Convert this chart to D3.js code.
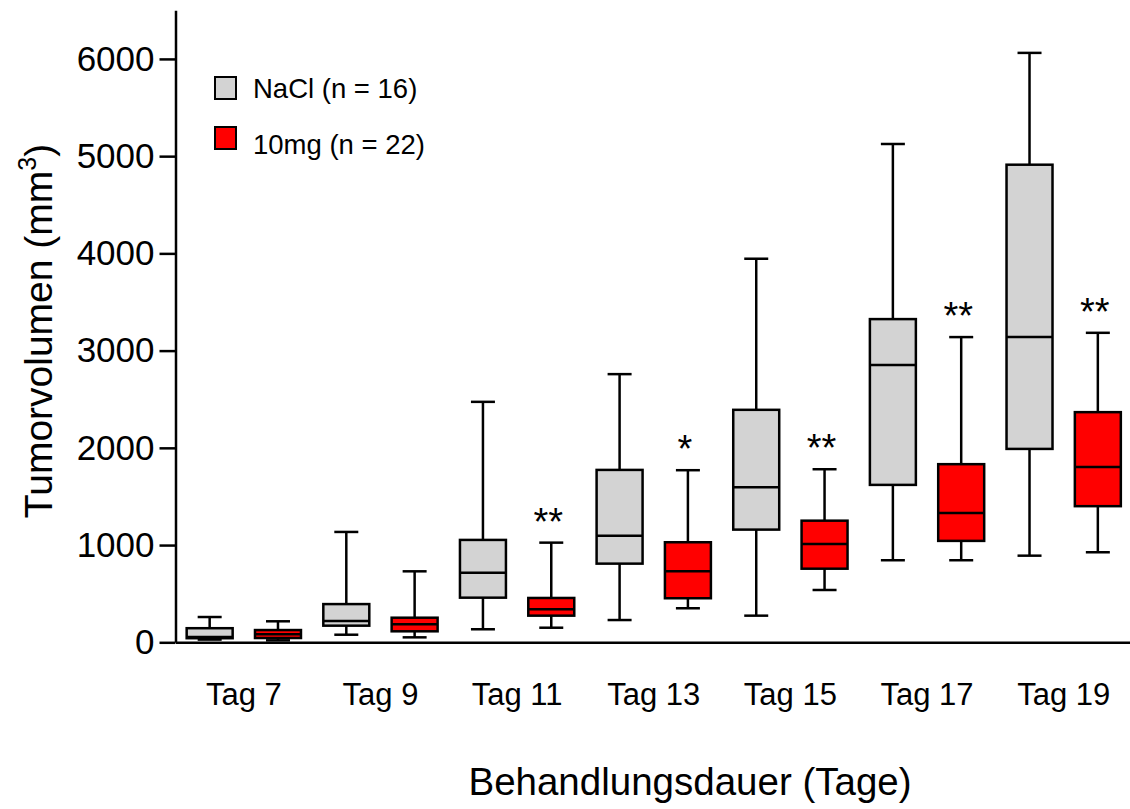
<!DOCTYPE html>
<html>
<head>
<meta charset="utf-8">
<script src="https://cdn.jsdelivr.net/npm/d3@7"></script>
<style>
  html, body { margin: 0; padding: 0; background: #fff; }
  svg { display: block; font-family: "Liberation Sans", Arial, sans-serif; }
</style>
</head>
<body>
<svg id="chart" width="1130" height="809"></svg>
<script>
// Treatment days and groups
const days = ["Tag 7", "Tag 9", "Tag 11", "Tag 13", "Tag 15", "Tag 17", "Tag 19"];
const groups = ["NaCl", "10mg"];
const groupLabels = ["NaCl (n = 16)", "10mg (n = 22)"];

// Box statistics per day (mm³): whisker min, Q1, median, Q3, whisker max
const naclMin = [28, 78, 134, 229, 274, 844, 891];
const naclQ1  = [42, 171, 459, 809, 1159, 1619, 1989];
const naclMed = [55, 219, 716, 1097, 1595, 2851, 3139];
const naclQ3  = [145, 393, 1053, 1773, 2391, 3324, 4912];
const naclMax = [260, 1135, 2473, 2758, 3945, 5125, 6062];

const mgMin = [20, 51, 150, 350, 538, 844, 926];
const mgQ1  = [44, 113, 274, 453, 757, 1043, 1400];
const mgMed = [82, 185, 340, 731, 1012, 1331, 1804];
const mgQ3  = [126, 253, 456, 1029, 1251, 1832, 2367];
const mgMax = [216, 730, 1025, 1770, 1780, 3139, 3183];

// Significance vs. NaCl for the 10mg group
const significance = ["", "", "**", "*", "**", "**", "**"];

const yTicks = [0, 1000, 2000, 3000, 4000, 5000, 6000];

const colors = { "NaCl": "#d3d3d3", "10mg": "#ff0000" };

const rows = [];
days.forEach((d, i) => {
  rows.push({ day: d, group: "NaCl", min: naclMin[i], q1: naclQ1[i], med: naclMed[i], q3: naclQ3[i], max: naclMax[i], sig: "" });
  rows.push({ day: d, group: "10mg", min: mgMin[i], q1: mgQ1[i], med: mgMed[i], q3: mgQ3[i], max: mgMax[i], sig: significance[i] });
});

const svg = d3.select("#chart");
const yAxisX = 175.5;
const baseY = 642.3;

const x = d3.scaleBand().domain(days).range([yAxisX, 1132]).padding(0);
const xg = d3.scaleBand().domain(groups).range([0, x.bandwidth()])
  .paddingInner(0.327).paddingOuter(0.1635);
const y = d3.scaleLinear().domain([0, 6500]).range([baseY, 10.3]);

// Y axis
const yAxis = svg.append("g")
  .attr("transform", `translate(${yAxisX},0)`)
  .call(d3.axisLeft(y).tickValues(yTicks).tickSize(16).tickSizeOuter(0).tickPadding(5).tickFormat(d3.format("d")));
yAxis.select(".domain").attr("stroke", "#000").attr("stroke-width", 2.5);
yAxis.selectAll(".tick line").attr("stroke", "#000").attr("stroke-width", 2.5);
yAxis.selectAll(".tick text")
  .attr("font-size", 35).attr("fill", "#000")
  .attr("font-family", "Liberation Sans, Arial, sans-serif");

// X axis (baseline only, labels centred under each day)
const xAxis = svg.append("g")
  .attr("transform", `translate(0,${baseY})`)
  .call(d3.axisBottom(x).tickSize(0).tickSizeOuter(0).tickPadding(0));
xAxis.select(".domain").attr("stroke", "#000").attr("stroke-width", 2.5);
xAxis.selectAll(".tick text")
  .attr("font-size", 31).attr("fill", "#000")
  .attr("font-family", "Liberation Sans, Arial, sans-serif")
  .attr("dy", null).attr("y", 705 - baseY);

// Box plots
const boxW = xg.bandwidth();
const capW = 24;
const boxes = svg.append("g").selectAll("g.box").data(rows).join("g")
  .attr("class", "box")
  .attr("transform", d => `translate(${x(d.day) + xg(d.group) + boxW / 2},0)`);

const lineStyle = sel => sel.attr("stroke", "#000").attr("stroke-width", 2.5);

// whisker stems
boxes.append("line").attr("x1", 0).attr("x2", 0)
  .attr("y1", d => y(d.max)).attr("y2", d => y(d.q3)).call(lineStyle);
boxes.append("line").attr("x1", 0).attr("x2", 0)
  .attr("y1", d => y(d.q1)).attr("y2", d => y(d.min)).call(lineStyle);
// whisker caps
boxes.append("line").attr("x1", -capW / 2).attr("x2", capW / 2)
  .attr("y1", d => y(d.max)).attr("y2", d => y(d.max)).call(lineStyle);
boxes.append("line").attr("x1", -capW / 2).attr("x2", capW / 2)
  .attr("y1", d => y(d.min)).attr("y2", d => y(d.min)).call(lineStyle);
// box
boxes.append("rect")
  .attr("x", -boxW / 2).attr("width", boxW)
  .attr("y", d => y(d.q3)).attr("height", d => y(d.q1) - y(d.q3))
  .attr("fill", d => colors[d.group]).call(lineStyle);
// median
boxes.append("line").attr("x1", -boxW / 2).attr("x2", boxW / 2)
  .attr("y1", d => y(d.med)).attr("y2", d => y(d.med)).call(lineStyle);
// significance stars
boxes.filter(d => d.sig).append("text")
  .attr("x", -3).attr("y", d => y(d.max) - 8)
  .attr("text-anchor", "middle").attr("font-size", 38).attr("fill", "#000")
  .text(d => d.sig);

// Legend
const legend = svg.append("g");
const legendY = [77, 127];
const legendTextY = [98, 154];
groups.forEach((g, i) => {
  legend.append("rect").attr("x", 215).attr("y", legendY[i]).attr("width", 21).attr("height", 22)
    .attr("fill", colors[g]).attr("stroke", "#000").attr("stroke-width", 2);
  legend.append("text").attr("x", 253).attr("y", legendTextY[i])
    .attr("font-size", 27.5).attr("fill", "#000").text(groupLabels[i]);
});

// Axis titles
svg.append("text")
  .attr("x", 690).attr("y", 795).attr("text-anchor", "middle")
  .attr("font-size", 38.5).attr("fill", "#000")
  .text("Behandlungsdauer (Tage)");

const yTitle = svg.append("text")
  .attr("transform", "translate(52,331) rotate(-90)")
  .attr("text-anchor", "middle").attr("font-size", 39).attr("fill", "#000");
yTitle.append("tspan").text("Tumorvolumen (mm");
yTitle.append("tspan").attr("font-size", 25).attr("dy", -16).text("3");
yTitle.append("tspan").attr("dy", 16).text(")");
</script>
</body>
</html>
